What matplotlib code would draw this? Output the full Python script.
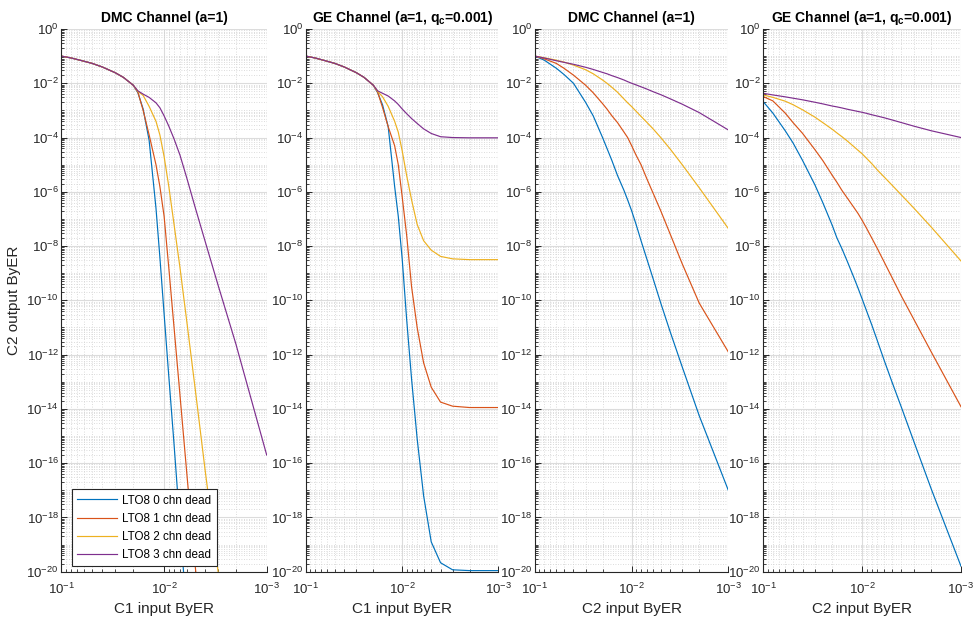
import numpy as np
import matplotlib
matplotlib.use("Agg")
import matplotlib.pyplot as plt
from matplotlib.ticker import FixedLocator, LogFormatterSciNotation, NullFormatter

plt.rcParams['font.family'] = ['Liberation Sans', 'DejaVu Sans']
plt.rcParams['mathtext.fontset'] = 'custom'
plt.rcParams['mathtext.rm'] = 'Liberation Sans'
plt.rcParams['mathtext.bf'] = 'Liberation Sans:bold'
plt.rcParams['mathtext.it'] = 'Liberation Sans:italic'

# input byte error rate (x axis)
ber_in = [0.1, 0.08, 0.06, 0.05, 0.04, 0.03, 0.025, 0.02, 0.018, 0.016, 0.014, 0.012,
          0.011, 0.01, 0.009, 0.008, 0.007, 0.006, 0.005, 0.004, 0.003, 0.002, 0.001]

# output ByER, stored as log10 exponents
common = [-1.0, -1.07, -1.19, -1.27, -1.40, -1.61, -1.78, -2.07]

# panel 1: DMC, C1
dmc1_0 = common + [-2.35, -2.95, -4.1, -6.6, -8.4, -10.5, -12.8, -15.3, -18.3, -21.6, -25.5, -30, -36, -44, -56]
dmc1_1 = common + [-2.33, -3.0, -3.9, -5.0, -5.8, -6.9, -8.8, -11.0, -13.5, -16.4, -19.7, -23.5, -28.5, -35, -46]
dmc1_2 = common + [-2.30, -2.45, -2.85, -3.4, -3.9, -4.7, -5.8, -7.2, -8.8, -10.8, -13.2, -16.2, -19.9, -25.3, -34.5]
dmc1_3 = common + [-2.28, -2.40, -2.52, -2.72, -2.9, -3.2, -3.58, -4.05, -4.65, -5.5, -6.55, -7.8, -9.4, -11.6, -15.7]

# panel 2: GE, C1
ge1_0 = common + [-2.35, -2.8, -3.6, -5.8, -6.9, -8.5, -10.7, -12.9, -15.1, -17.2, -18.9, -19.67, -19.93, -19.96, -19.96]
ge1_1 = common + [-2.33, -2.9, -3.6, -4.3, -5.0, -6.2, -7.6, -9.5, -11.0, -12.3, -13.2, -13.75, -13.9, -13.95, -13.95]
ge1_2 = common + [-2.30, -2.5, -2.85, -3.4, -3.8, -4.5, -5.4, -6.3, -7.2, -7.8, -8.15, -8.38, -8.47, -8.5, -8.5]
ge1_3 = common + [-2.28, -2.37, -2.47, -2.65, -2.78, -2.95, -3.12, -3.3, -3.48, -3.68, -3.85, -3.97, -4.0, -4.01, -4.01]

# panel 3: DMC, C2
dmc2_0 = [-1.0, -1.15, -1.45, -1.68, -2.0, -2.7, -3.2, -4.0, -4.4, -4.85, -5.4, -5.95,
          -6.3, -6.7, -7.2, -7.8, -8.45, -9.2, -10.1, -11.15, -12.45, -14.25, -17.0]
dmc2_1 = [-1.0, -1.1, -1.27, -1.45, -1.7, -2.07, -2.35, -2.75, -2.95, -3.2, -3.45, -3.8,
          -4.0, -4.3, -4.65, -5.0, -5.5, -6.05, -6.7, -7.55, -8.65, -10.1, -11.9]
dmc2_2 = [-1.0, -1.06, -1.15, -1.22, -1.33, -1.5, -1.65, -1.88, -2.0, -2.15, -2.33, -2.58,
          -2.72, -2.86, -3.03, -3.22, -3.43, -3.68, -4.0, -4.42, -5.0, -5.85, -7.35]
dmc2_3 = [-1.0, -1.07, -1.17, -1.23, -1.3, -1.41, -1.49, -1.6, -1.65, -1.72, -1.79, -1.88,
          -1.94, -2.0, -2.06, -2.13, -2.21, -2.31, -2.42, -2.57, -2.77, -3.08, -3.72]

# panel 4: GE, C2
ge2_0 = [-2.68, -3.1, -3.75, -4.2, -4.85, -5.75, -6.4, -7.25, -7.7, -8.1, -8.6, -9.2,
         -9.55, -9.95, -10.4, -10.9, -11.5, -12.2, -13.0, -13.95, -15.2, -16.95, -19.8]
ge2_1 = [-2.49, -2.65, -3.1, -3.45, -3.85, -4.45, -4.85, -5.4, -5.65, -5.95, -6.25, -6.6,
         -6.8, -7.05, -7.35, -7.7, -8.1, -8.58, -9.15, -9.85, -10.7, -11.9, -13.92]
ge2_2 = [-2.43, -2.52, -2.66, -2.79, -2.98, -3.25, -3.45, -3.7, -3.83, -3.97, -4.14, -4.35,
         -4.47, -4.6, -4.77, -4.96, -5.2, -5.45, -5.75, -6.12, -6.6, -7.3, -8.55]
ge2_3 = [-2.37, -2.43, -2.5, -2.55, -2.61, -2.7, -2.76, -2.84, -2.87, -2.91, -2.96, -3.01,
         -3.04, -3.07, -3.11, -3.16, -3.21, -3.27, -3.35, -3.45, -3.58, -3.75, -4.0]

labels = ['LTO8 0 chn dead', 'LTO8 1 chn dead', 'LTO8 2 chn dead', 'LTO8 3 chn dead']
colors = ['#0072BD', '#D95319', '#EDB120', '#7E2F8E']
titles = ['DMC Channel (a=1)', r'GE Channel (a=1, q$_\mathbf{c}$=0.001)',
          'DMC Channel (a=1)', r'GE Channel (a=1, q$_\mathbf{c}$=0.001)']
xlabels = ['C1 input ByER', 'C1 input ByER', 'C2 input ByER', 'C2 input ByER']
panels = [[dmc1_0, dmc1_1, dmc1_2, dmc1_3],
          [ge1_0, ge1_1, ge1_2, ge1_3],
          [dmc2_0, dmc2_1, dmc2_2, dmc2_3],
          [ge2_0, ge2_1, ge2_2, ge2_3]]

fig = plt.figure(figsize=(9.78, 6.23), dpi=100)
W, H = 978, 623
boxes = [(61.5, 266.7), (306, 498.5), (535, 728.3), (763.3, 961)]
top, bot = 29, 571.7

ymaj = 10.0 ** np.arange(-20, 1, 2)
ymin = [m * 10.0 ** k for k in range(-21, 1) for m in range(1, 10)
        if not (m == 1 and k % 2 == 0)]
xmaj = [1e-1, 1e-2, 1e-3]
xmin = [m * 10.0 ** k for k in (-3, -2) for m in range(2, 10)]

axes = []
for i, (x0, x1) in enumerate(boxes):
    ax = fig.add_axes([x0 / W, 1 - bot / H, (x1 - x0) / W, (bot - top) / H])
    axes.append(ax)
    for series, c, lab in zip(panels[i], colors, labels):
        ax.plot(ber_in, 10.0 ** np.array(series), color=c, lw=0.85, label=lab)
    ax.set_xscale('log')
    ax.set_yscale('log')
    ax.set_xlim(0.1, 0.001)
    ax.set_ylim(1e-20, 1)
    ax.yaxis.set_major_locator(FixedLocator(ymaj))
    ax.yaxis.set_minor_locator(FixedLocator(ymin))
    ax.xaxis.set_major_locator(FixedLocator(xmaj))
    ax.xaxis.set_minor_locator(FixedLocator(xmin))
    ax.yaxis.set_major_formatter(LogFormatterSciNotation())
    ax.xaxis.set_major_formatter(LogFormatterSciNotation())
    ax.yaxis.set_minor_formatter(NullFormatter())
    ax.xaxis.set_minor_formatter(NullFormatter())
    ax.grid(True, which='major', color='#dcdcdc', lw=0.8, ls='-')
    ax.grid(True, which='minor', color='#d0d0d0', lw=0.6, ls=(0, (1, 2)))
    ax.set_axisbelow(True)
    for s in ('top', 'right'):
        ax.spines[s].set_visible(False)
    for s in ('left', 'bottom'):
        ax.spines[s].set_color('#262626')
        ax.spines[s].set_linewidth(0.8)
    ax.tick_params(which='both', direction='in', colors='#262626', labelsize=9.5,
                   top=False, right=False)
    ax.tick_params(which='major', length=4, width=0.7)
    ax.tick_params(which='minor', length=2.5, width=0.6)
    ax.tick_params(axis='x', pad=7)
    ax.tick_params(axis='y', pad=2)
    ax.set_title(titles[i], fontsize=10, fontweight='bold', color='black', pad=5)
    ax.set_xlabel(xlabels[i], fontsize=11, color='#262626', labelpad=4)

axes[0].set_ylabel('C2 output ByER', fontsize=11, color='#262626', labelpad=4)
leg = axes[0].legend(loc='lower left', bbox_to_anchor=(0.051, 0.0105), borderaxespad=0,
                     fontsize=8.4, frameon=True, fancybox=False, handlelength=3.4,
                     labelspacing=0.52, borderpad=0.45, handletextpad=0.45)
leg.get_frame().set_edgecolor('#262626')
leg.get_frame().set_linewidth(0.8)
leg.get_frame().set_alpha(1)

fig.savefig('out.png', dpi=100)
